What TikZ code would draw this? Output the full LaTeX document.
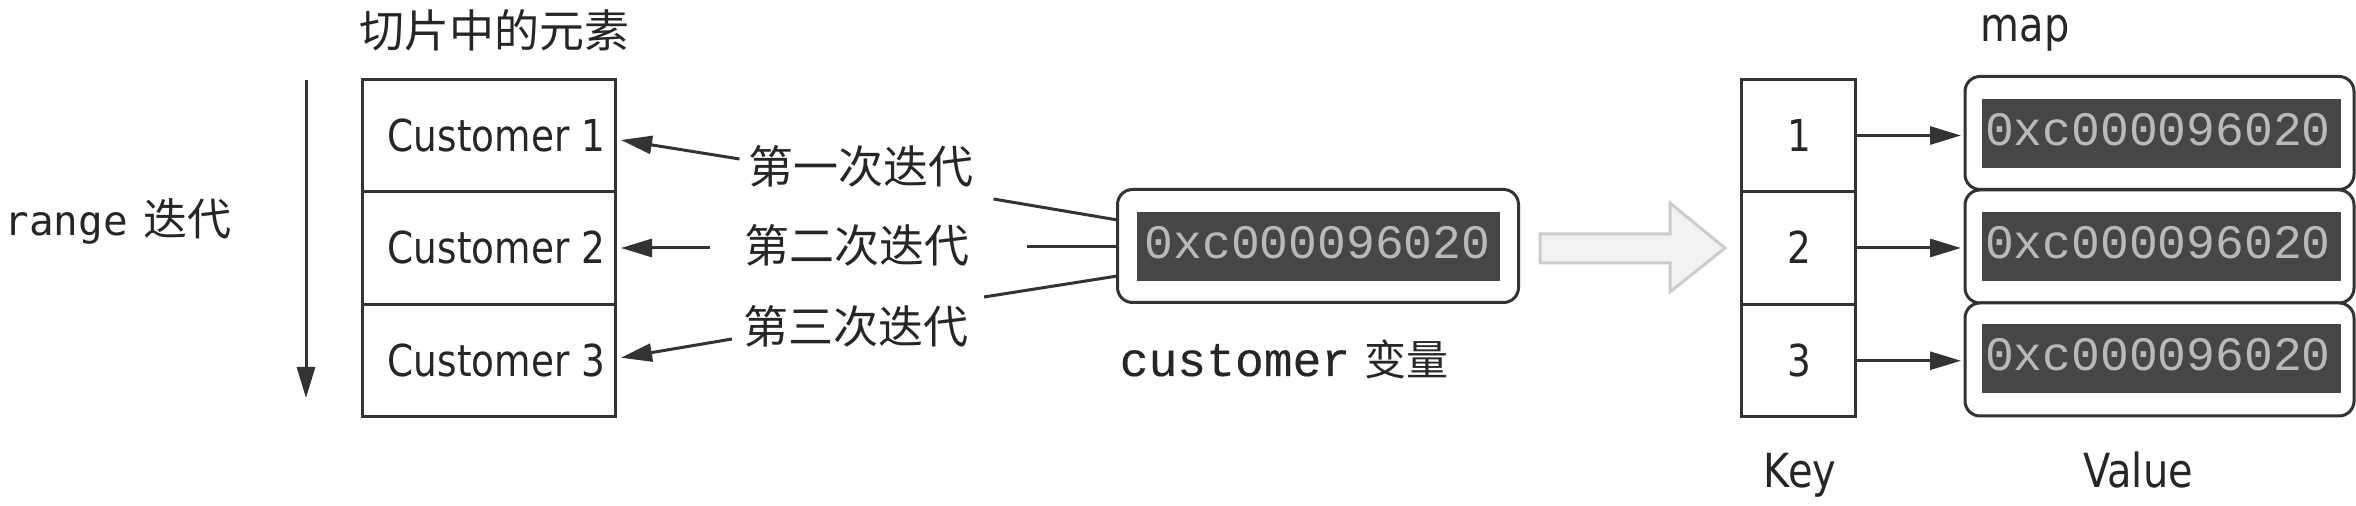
\documentclass[tikz,border=0pt]{standalone}
\usepackage{fontspec}
\setmainfont{DejaVu Sans}[FakeStretch=0.85]
\newfontfamily\cjk{Noto Sans CJK SC}
\newfontfamily\lmono{Liberation Mono}
\newfontfamily\lmonob[FakeBold=0.3]{Liberation Mono}
\newfontfamily\dmono{DejaVu Sans Mono}
\usetikzlibrary{arrows.meta}
\definecolor{ink}{HTML}{333333}
\definecolor{txt}{HTML}{262626}
\definecolor{dark}{HTML}{464646}
\definecolor{hex}{HTML}{B9B9B9}
\tikzset{
  cell/.style={draw=ink,line width=1.5pt,fill=white,inner sep=0pt,outer sep=0pt,minimum height=56.25pt},
  lcell/.style={cell,minimum width=126.5pt},
  rcell/.style={cell,minimum width=57pt},
  pill/.style={draw=ink,line width=1.5pt,fill=white,rounded corners=7.5pt,inner sep=0pt,outer sep=0pt,minimum width=200.5pt,minimum height=56.5pt},
  pillb/.style={pill,minimum width=194.5pt},
  plate/.style={fill=dark,draw=none,inner sep=0pt,outer sep=0pt,minimum height=34.5pt},
  hextext/.style={text=hex,anchor=base,inner sep=0pt,font=\lmono\fontsize{24}{24}\selectfont},
  sans/.style={text=txt,anchor=base,inner sep=0pt,font=\fontsize{22}{22}\selectfont},
  sansb/.style={sans,font=\fontsize{23.5}{23.5}\selectfont},
  han/.style={text=txt,inner sep=0pt,outer sep=0pt,font=\cjk\fontsize{22.5}{22.5}\selectfont},
  arr/.style={draw=ink,line width=1.5pt,-{Triangle[length=15.5pt,width=9pt,fill=ink]}},
  plainline/.style={draw=ink,line width=1.5pt},
}
\begin{document}
\begin{tikzpicture}[x=0.5pt,y=-0.5pt]
\useasboundingbox (0,0) rectangle (2356,506);
% left stack
\node[lcell] (c1) at (488.5,135.5) {};
\node[lcell] (c2) at (488.5,248) {};
\node[lcell] (c3) at (488.5,360.75) {};
\node[sans] (ct1) at (496.5,152) {Customer 1};
\node[sans] (ct2) at (496.5,264) {Customer 2};
\node[sans] (ct3) at (496.5,377) {Customer 3};
\node[han] (title) at (494.5,30.5) {切片中的元素};
% range
\coordinate (rtop) at (306,80);
\coordinate (rbot) at (306,398);
\draw[arr] (rtop) -- (rbot);
\node[text=txt,anchor=base west,inner sep=0pt] (rng) at (4,236) {\dmono\fontsize{20.5}{20.5}\selectfont range\hspace{8pt}\cjk\fontsize{22}{22}\selectfont 迭代};
% labels
\node[han] (l1) at (861,166) {第一次迭代};
\node[han] (l2) at (857,245) {第二次迭代};
\node[han] (l3) at (855.5,326) {第三次迭代};
% customer variable
\node[pill] (var) at (1318,246) {};
\node[plate,minimum width=181.5pt] (varp) at (1318.5,246.5) {};
\node[hextext] (vart) at (1317.5,259) {0xc000096020};
\node[text=txt,anchor=base,inner sep=0pt] (varl) at (1284,376) {\lmonob\fontsize{24}{24}\selectfont customer\hspace{7pt}\cjk\fontsize{21}{21}\selectfont 变量};
% connectors
\draw[arr] ([shift={(-9,-7)}]l1.west) -- ([shift={(6,4.5)}]c1.east);
\draw[arr] ([shift={(-35,3)}]l2.west) -- ([shift={(6,0)}]c2.east);
\draw[arr] ([shift={(-11,13)}]l3.west) -- ([shift={(6,-3)}]c3.east);
\draw[plainline] ([shift={(20,33)}]l1.east) -- ([shift={(0,-26)}]var.west);
\draw[plainline] ([shift={(57,2)}]l2.east) -- ([shift={(0,1)}]var.west);
\draw[plainline] ([shift={(16,-29)}]l3.east) -- ([shift={(0,30)}]var.west);
% big arrow
\draw[draw=black!20,fill=black!5,line width=1.5pt,line join=miter]
  (1540,234) -- (1670,234) -- (1670,203) -- (1725,248) -- (1670,292) -- (1670,263) -- (1540,263) -- cycle;
% right stack
\node[rcell] (k1) at (1798,135.5) {};
\node[rcell] (k2) at (1798,248) {};
\node[rcell] (k3) at (1798,360.75) {};
\node[sans] (kt1) at (1799,152) {1};
\node[sans] (kt2) at (1799,264) {2};
\node[sans] (kt3) at (1799,377) {3};
% values
\node[pillb] (v1) at (2159.5,133) {};
\node[pillb] (v2) at (2159.5,246.5) {};
\node[pillb] (v3) at (2159.5,359.5) {};
\foreach \n/\y/\b in {1/133.5/146,2/246.5/259,3/358.5/371}{
  \node[plate,minimum width=179.5pt] (p\n) at (2161.5,\y) {};
  \node[hextext] (t\n) at (2158,\b) {0xc000096020};
}
\draw[arr] (k1.east) -- ([xshift=-2pt]v1.west |- k1.east);
\draw[arr] (k2.east) -- ([xshift=-2pt]v2.west |- k2.east);
\draw[arr] (k3.east) -- ([xshift=-2pt]v3.west |- k3.east);
\node[sansb] (map) at (2025,42) {map};
\node[sansb] (key) at (1800,488) {Key};
\node[sansb] (val) at (2138,488) {Value};
\end{tikzpicture}
\end{document}
